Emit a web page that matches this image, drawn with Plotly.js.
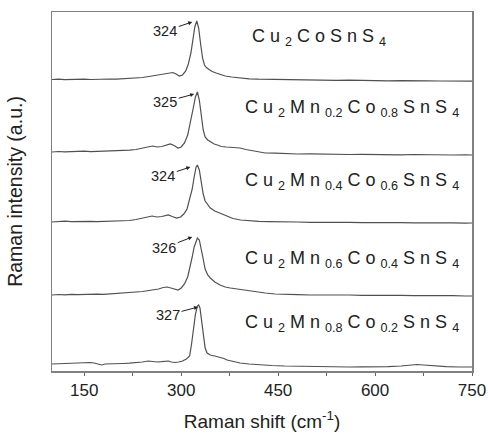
<!DOCTYPE html>
<html>
<head>
<meta charset="utf-8">
<script src="https://cdn.plot.ly/plotly-3.0.1.min.js"></script>
<style>html,body{margin:0;padding:0;background:#fff;}#chart{width:488px;height:439px;}</style>
</head>
<body>
<div id="chart"></div>
<script>
// Raman spectra (relative intensity above each baseline, a.u.)
const x1 = [100,110,120,130,140,150,160,170,180,190,200,210,220,230,240,250,260,270,280,287,292,297,302,307,311,315,318,321,324,327,330,333,336,339,343,348,354,360,368,378,390,405,420,440,460,480,500,520,540,560,580,600,620,640,660,680,700,720,740,750];
const y1 = [0.5,0.8,0.3,0.7,0.4,0.9,0.5,0.8,0.6,1,0.8,1.2,1.4,1.8,2.5,3.5,4.5,5.5,6.5,7.5,6,4,5,9,16,27,40,53,59,52,36,22,15,12.5,10.5,8.5,7,5.5,4,3,2,1.2,0.8,0.5,0.2,0,-0.3,0,-0.4,-0.2,-0.6,-0.4,-0.8,-0.6,-1,-0.8,-1,-1.2,-1,-1.2];

const x2 = [100,110,120,130,140,150,160,170,180,190,200,210,220,230,240,248,256,263,270,277,283,289,295,300,305,310,314,318,322,325,328,331,334,337,341,346,351,356,362,370,380,391,400,410,420,430,445,460,480,500,520,540,560,580,600,620,640,660,680,700,720,740,750];
const y2 = [0,0.5,0.2,0.6,0.3,0.8,0.4,0.6,0.3,0.8,1,1.3,1.8,2.5,3.5,5,6,5,5.5,7,8,6.5,4,5,9,17,28,42,55,60,52,38,22,15,12,10,8,7,5.5,5,4.5,4,2.5,1.5,0,-1,-1.2,-1.8,-2,-1.8,-2.2,-2,-2.5,-2.3,-2.6,-2.4,-2.8,-2.5,-2.8,-2.6,-3,-2.8,-3];

const x3 = [100,110,120,130,140,150,160,170,180,190,200,210,220,230,240,248,255,262,270,276,280,286,293,299,304,309,313,317,320,323,325,328,331,334,337,341,345,352,360,370,380,392,406,420,435,448,465,480,500,520,540,560,580,600,620,640,660,680,700,720,740,750];
const y3 = [0,0.4,0.8,0.3,0.6,0.2,0.7,0.4,0.6,0.3,0.8,1,1.5,2.5,3.5,5,6,5,5.5,6.5,7,5.5,4,5,8,13,22,33,45,55,57,52,40,28,21,17,14,11,9,6,3.5,2,1,0.6,0.3,0,-0.3,0,-0.4,-0.2,-0.6,-0.4,-0.7,-0.5,-0.8,-0.6,-0.9,-0.7,-1,-0.8,-1.1,-1];

const x4 = [100,110,120,130,140,150,160,170,180,190,200,210,220,230,240,250,258,265,272,278,284,290,295,300,305,310,314,317,320,323,325,328,331,334,337,341,345,352,360,368,376,386,396,405,415,430,445,460,480,500,520,540,560,580,600,620,640,660,680,700,720,740,750];
const y4 = [0,0.5,0.2,0.7,0.4,0.8,0.5,0.9,0.6,1,1.2,1.6,2,2.8,3.5,4.5,5,6,7.5,8,7,5.5,5,7,11,18,28,38,48,55,57,55,47,36,26,20,17,13,10,8,7,6,5.5,4,3,2,1,0.5,0.3,0,0.2,-0.2,0,-0.4,-0.2,-0.5,-0.3,-0.6,-0.4,-0.8,-0.6,-1,-1];

const x5 = [100,110,120,130,140,150,159,165,172,177,182,190,200,210,220,230,240,249,256,263,270,276,280,285,290,296,302,308,313,316,319,322,325,327,329,331,334,337,340,345,352,360,366,371,380,391,405,420,440,460,480,500,520,540,560,580,600,620,640,655,665,675,690,710,730,750];
const y5 = [0,0.3,0.6,0.4,0.8,1,1.5,1,0,-1,0,0,0.3,0.5,0.8,1.2,2,3,2.5,2,2.3,2.8,3,2,1.5,2,3,5,8,20,36,50,58,59,56,46,32,16,11,9,8,7,5.5,4,2.5,1,0,-0.8,-1.5,-2,-2.3,-2.5,-2.8,-2.6,-3,-2.8,-3,-2.6,-2,-1,-0.5,-1,-2,-2.6,-3,-3];

const offsets = [291, 219, 149, 76, 7];
const peakLabels = ['324', '325', '324', '326', '327'];
const sampleNames = [
  'C u <sub>2</sub> C o S n S <sub>4</sub>',
  'C u <sub>2</sub> M n <sub>0.2</sub> C o <sub>0.8</sub> S n S <sub>4</sub>',
  'C u <sub>2</sub> M n <sub>0.4</sub> C o <sub>0.6</sub> S n S <sub>4</sub>',
  'C u <sub>2</sub> M n <sub>0.6</sub> C o <sub>0.4</sub> S n S <sub>4</sub>',
  'C u <sub>2</sub> M n <sub>0.8</sub> C o <sub>0.2</sub> S n S <sub>4</sub>'
];
const xTicks = [150, 300, 450, 600, 750];

const xs = [x1, x2, x3, x4, x5];
const ys = [y1, y2, y3, y4, y5];

const traces = xs.map((xx, i) => ({
  type: 'scatter', mode: 'lines',
  x: xx, y: ys[i].map(v => v + offsets[i]),
  line: {color: '#505050', width: 1.2},
  hoverinfo: 'skip', showlegend: false
}));

// annotation geometry (arrow heads near each peak top, label offsets in px)
const heads = [[317, 349, -27, 9], [320, 277, -29, 8], [314, 204, -27, 9], [317, 134, -28, 11], [326, 64, -30, 8]];
const nameY = [334, 263, 190, 112, 48];
const nameX = [406, 396, 396, 396, 396];

const annotations = [];
heads.forEach((h, i) => {
  annotations.push({
    x: h[0], y: h[1], xref: 'x', yref: 'y',
    ax: h[2], ay: h[3], text: peakLabels[i],
    showarrow: true, arrowhead: 2, arrowsize: 0.8, arrowwidth: 1, arrowcolor: '#222',
    standoff: 0, startstandoff: 0,
    font: {family: 'Liberation Sans, Arial, sans-serif', size: 14.5, color: '#222'}
  });
  annotations.push({
    x: nameX[i], y: nameY[i], xref: 'x', yref: 'y',
    xanchor: 'left', yanchor: 'middle', showarrow: false,
    text: sampleNames[i],
    font: {family: 'Liberation Sans, Arial, sans-serif', size: 18, color: '#222'}
  });
});

const layout = {
  width: 488, height: 439,
  margin: {l: 52, r: 16, t: 12, b: 68},
  paper_bgcolor: '#fff', plot_bgcolor: '#fff',
  font: {family: 'Liberation Sans, Arial, sans-serif', color: '#222'},
  xaxis: {
    range: [100, 750], tickvals: xTicks, ticktext: xTicks.map(String),
    ticks: 'outside', ticklen: 3, tickcolor: '#666', tickwidth: 1,
    minor: {dtick: 75, tick0: 0, ticks: 'outside', ticklen: 3, tickcolor: '#666'},
    showline: true, mirror: true, linecolor: '#808080', linewidth: 1.5,
    showgrid: false, zeroline: false,
    tickfont: {size: 17, color: '#222'},
    title: {text: 'Raman shift (cm<sup>-1</sup>)', font: {size: 19, color: '#222'}, standoff: 16}
  },
  yaxis: {
    range: [0, 359], showticklabels: false, ticks: '',
    showline: true, mirror: true, linecolor: '#808080', linewidth: 1.5,
    showgrid: false, zeroline: false,
    title: {text: 'Raman intensity (a.u.)', font: {size: 19.5, color: '#222'}, standoff: 22}
  },
  annotations: annotations
};

Plotly.newPlot('chart', traces, layout, {displayModeBar: false, staticPlot: true});
</script>
</body>
</html>
